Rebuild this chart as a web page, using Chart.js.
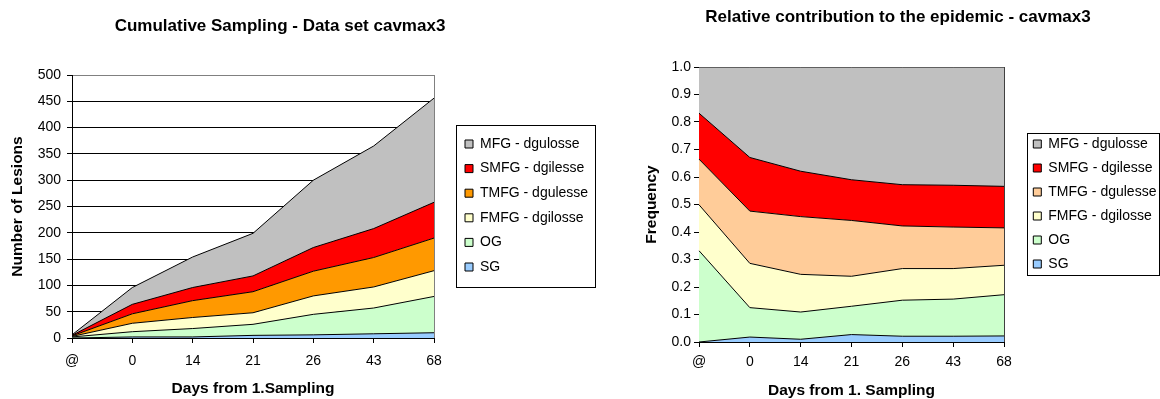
<!DOCTYPE html>
<html><head><meta charset="utf-8">
<script src="https://cdn.jsdelivr.net/npm/chart.js@4/dist/chart.umd.min.js"></script>
<style>
html,body{margin:0;padding:0;background:#fff;width:1160px;height:399px;overflow:hidden;}
canvas{position:absolute;top:0;}
#c1{left:0;} #c2{left:615px;}
</style></head><body>
<canvas id="c1" width="615" height="399"></canvas>
<canvas id="c2" width="545" height="399"></canvas>
<script>
// ---------- data ----------
const categories = ['@', '0', '14', '21', '26', '43', '68'];
const seriesNames = ['SG', 'OG', 'FMFG - dgilosse', 'TMFG - dgulesse', 'SMFG - dgilesse', 'MFG - dgulosse'];

// Left chart: cumulative number of lesions per group (stacked)
const lesionsSG   = [0, 2, 2, 5, 6, 8, 10];
const lesionsOG   = [2, 10, 16, 21, 39, 49, 69];
const lesionsFMFG = [1, 16, 21, 22, 35, 40, 49];
const lesionsTMFG = [1, 18, 32, 40, 47, 56, 62];
const lesionsSMFG = [1, 18, 25, 30, 45, 55, 68];
const lesionsMFG  = [1, 32, 58, 81, 128, 157, 198];

// Right chart: relative contribution (stacked frequencies)
const freqSG   = [0.000, 0.018, 0.010, 0.027, 0.021, 0.021, 0.022];
const freqOG   = [0.332, 0.107, 0.099, 0.103, 0.131, 0.135, 0.150];
const freqFMFG = [0.167, 0.161, 0.137, 0.109, 0.115, 0.111, 0.107];
const freqTMFG = [0.166, 0.190, 0.210, 0.203, 0.155, 0.151, 0.136];
const freqSMFG = [0.167, 0.195, 0.165, 0.148, 0.150, 0.152, 0.151];
const freqMFG  = [0.168, 0.329, 0.379, 0.410, 0.428, 0.430, 0.434];

const lesionTicks = [0, 50, 100, 150, 200, 250, 300, 350, 400, 450, 500];
const freqTicks = [0.0, 0.1, 0.2, 0.3, 0.4, 0.5, 0.6, 0.7, 0.8, 0.9, 1.0];

// ---------- styles ----------
const FONT = "'Liberation Sans', Arial, Helvetica, sans-serif";
const leftColors  = ['#99CCFF', '#CCFFCC', '#FFFFCC', '#FF9900', '#FF0000', '#C0C0C0'];
const rightColors = ['#99CCFF', '#CCFFCC', '#FFFFCC', '#FFCC99', '#FF0000', '#C0C0C0'];

function makeDatasets(seriesList, colors) {
  return seriesList.map((vals, i) => ({
    label: seriesNames[i],
    data: vals,
    backgroundColor: colors[i],
    borderColor: '#000000',
    borderWidth: 1,
    fill: i === 0 ? 'origin' : '-1',
    pointRadius: 0,
    pointHoverRadius: 0,
    tension: 0
  }));
}

function placement(cfg) {
  return {
    id: 'placement',
    afterLayout(chart) {
      const t = chart.titleBlock;
      if (t) {
        t.left = cfg.titleX - 400; t.right = cfg.titleX + 400;
        t.top = cfg.titleY - cfg.titleSize / 2; t.bottom = t.top + cfg.titleSize;
      }
      const lg = chart.legend;
      if (lg) {
        lg.left = cfg.legendX; lg.right = cfg.legendX + 200; lg.width = 200;
        lg.top = cfg.legendY; lg.bottom = cfg.legendY + 380; lg.height = 380;
      }
    },
    afterDraw(chart) {
      const ctx = chart.ctx;
      ctx.save();
      ctx.strokeStyle = '#000';
      ctx.lineWidth = 1;
      const b = cfg.box;
      ctx.strokeRect(b[0] + 0.5, b[1] + 0.5, b[2], b[3]);
      ctx.restore();
    }
  };
}

function legendOpts(pad) {
  return {
    display: true,
    position: 'chartArea',
    align: 'start',
    reverse: true,
    labels: {
      boxWidth: 8, boxHeight: 8, padding: pad, color: '#000',
      font: { family: FONT, size: 14 }
    }
  };
}

// ---------- left chart ----------
new Chart(document.getElementById('c1'), {
  type: 'line',
  data: {
    labels: categories,
    datasets: makeDatasets([lesionsSG, lesionsOG, lesionsFMFG, lesionsTMFG, lesionsSMFG, lesionsMFG], leftColors)
  },
  options: {
    responsive: false, maintainAspectRatio: false, animation: false, events: [],
    layout: { padding: { left: 0, right: 181, top: 58, bottom: 0 } },
    plugins: {
      title: { display: true, text: 'Cumulative Sampling - Data set cavmax3', color: '#000',
               font: { family: FONT, size: 17, weight: 'bold', lineHeight: 1 }, padding: 0 },
      legend: legendOpts(10.6),
      tooltip: { enabled: false }
    },
    scales: {
      x: {
        offset: false,
        afterFit: s => { s.height = 61; },
        grid: { color: c => c.index === categories.length - 1 ? '#808080' : 'rgba(0,0,0,0)', tickColor: '#000', tickLength: 5, drawTicks: true },
        border: { color: '#000', width: 1 },
        ticks: { color: '#000', font: { family: FONT, size: 14 }, padding: 10, maxRotation: 0, autoSkip: false },
        title: { display: true, text: 'Days from 1.Sampling', color: '#000',
                 font: { family: FONT, size: 15.5, weight: 'bold', lineHeight: 1 }, padding: { top: 0, bottom: 3 } }
      },
      y: {
        stacked: true, min: 0, max: 500,
        afterFit: s => { s.width = 72; },
        afterBuildTicks: s => { s.ticks = lesionTicks.map(v => ({ value: v })); },
        grid: { color: c => (c.tick && c.tick.value === 500) ? '#808080' : '#000', tickColor: '#000', tickLength: 5 },
        border: { color: '#000', width: 1 },
        ticks: { color: '#000', font: { family: FONT, size: 14 }, padding: 6, callback: v => String(v) },
        title: { display: true, text: 'Number of Lesions', color: '#000',
                 font: { family: FONT, size: 15.5, weight: 'bold', lineHeight: 1 }, padding: { top: 10, bottom: 0 } }
      }
    }
  },
  plugins: [placement({ titleX: 280, titleY: 26.7, titleSize: 17, legendX: 454.4, legendY: 126.4, box: [456, 125, 139, 162] })]
});

// ---------- right chart ----------
new Chart(document.getElementById('c2'), {
  type: 'line',
  data: {
    labels: categories,
    datasets: makeDatasets([freqSG, freqOG, freqFMFG, freqTMFG, freqSMFG, freqMFG], rightColors)
  },
  options: {
    responsive: false, maintainAspectRatio: false, animation: false, events: [],
    layout: { padding: { left: 0, right: 156, top: 50, bottom: 0 } },
    plugins: {
      title: { display: true, text: 'Relative contribution to the epidemic - cavmax3', color: '#000',
               font: { family: FONT, size: 17, weight: 'bold', lineHeight: 1 }, padding: 0 },
      legend: legendOpts(10),
      tooltip: { enabled: false }
    },
    scales: {
      x: {
        offset: false,
        afterFit: s => { s.height = 57; },
        grid: { color: c => c.index === categories.length - 1 ? '#404040' : 'rgba(0,0,0,0)', tickColor: '#000', tickLength: 5, drawTicks: true },
        border: { color: '#000', width: 1 },
        ticks: { color: '#000', font: { family: FONT, size: 14 }, padding: 7, maxRotation: 0, autoSkip: false },
        title: { display: true, text: 'Days from 1. Sampling', color: '#000',
                 font: { family: FONT, size: 15.5, weight: 'bold', lineHeight: 1 }, padding: { top: 0, bottom: 1 } }
      },
      y: {
        stacked: true, min: 0, max: 1,
        afterFit: s => { s.width = 84; },
        afterBuildTicks: s => { s.ticks = freqTicks.map(v => ({ value: v })); },
        grid: { color: c => (c.tick && Math.abs(c.tick.value - 1) < 1e-9) ? '#000' : 'rgba(0,0,0,0)', tickColor: '#000', tickLength: 5 },
        border: { color: '#000', width: 1 },
        ticks: { color: '#000', font: { family: FONT, size: 14 }, padding: 3, callback: v => Number(v).toFixed(1) },
        title: { display: true, text: 'Frequency', color: '#000',
                 font: { family: FONT, size: 15.5, weight: 'bold', lineHeight: 1 }, padding: { top: 29, bottom: 0 } }
      }
    }
  },
  plugins: [placement({ titleX: 283, titleY: 17.2, titleSize: 17, legendX: 408.3, legendY: 127, box: [412, 133, 132, 142] })]
});
</script>
</body></html>
